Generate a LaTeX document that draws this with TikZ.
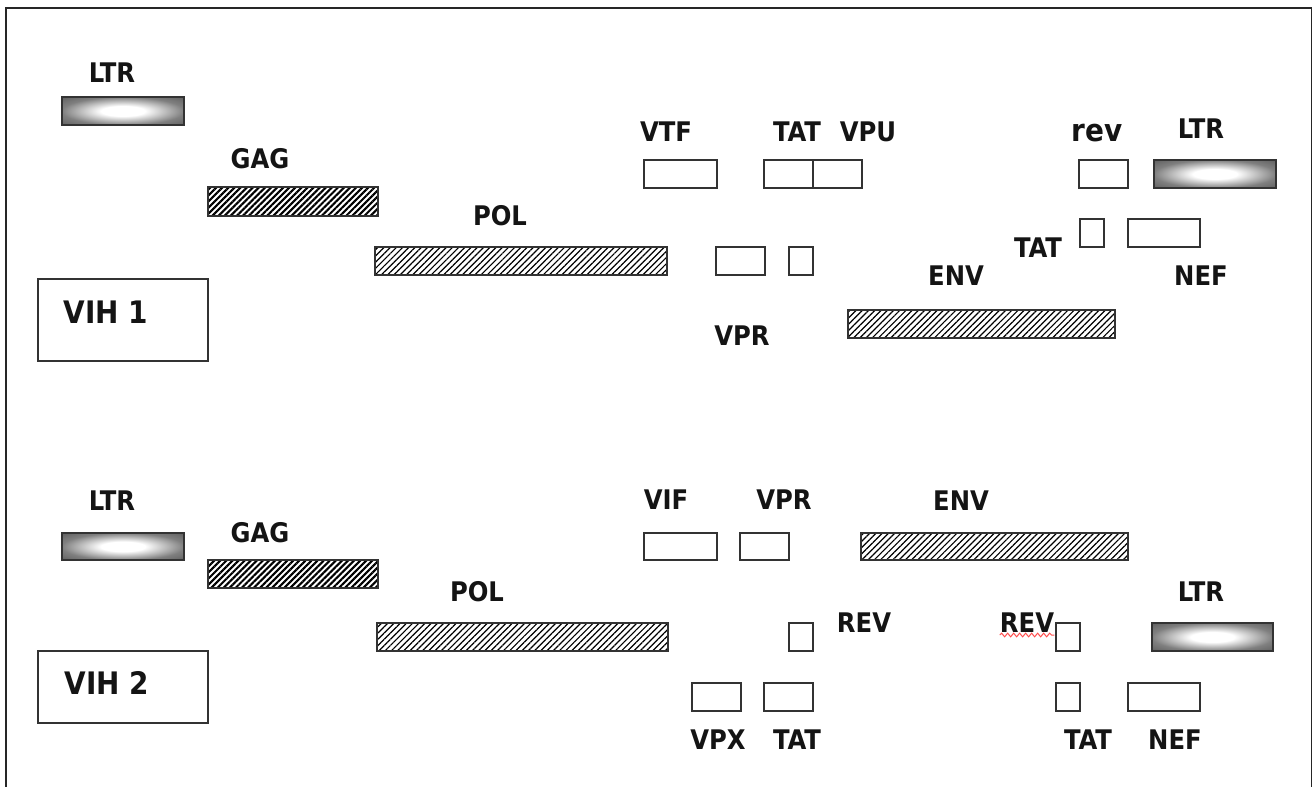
\documentclass[tikz,border=0pt]{standalone}
\usepackage{fontspec}
\setmainfont{DejaVu Sans Condensed}[BoldFont={DejaVu Sans Condensed Bold}]
\usetikzlibrary{patterns.meta,decorations.pathmorphing}

% glowing LTR bar: white core fading to grey at the ends
\pgfdeclareradialshading{ltrglow}{\pgfpoint{0bp}{0bp}}{%
  color(0bp)=(white); color(9bp)=(white); color(25bp)=(black!50);
  color(35bp)=(black!62); color(50bp)=(black!62)}

\tikzset{
  gene/.style={draw=black!80, line width=1.3pt, inner sep=0pt, outer sep=0pt},
  plain/.style={gene, fill=white},
  ltrbar/.style={gene, shading=ltrglow},
  gagbar/.style={gene, pattern={Lines[angle=45, distance=4.3pt, line width=2.1pt]}},
  polbar/.style={gene, pattern={Lines[angle=45, distance=4.4pt, line width=1.2pt]}},
  lab/.style={anchor=base, inner sep=0pt, font=\bfseries\fontsize{27}{30}\selectfont, text=black!92},
  biglab/.style={lab, font=\bfseries\fontsize{31}{34}\selectfont},
  virus/.style={draw=black!80, line width=1.3pt, inner sep=0pt},
  vlab/.style={anchor=base, inner sep=0pt, font=\bfseries\fontsize{31}{34}\selectfont, text=black!92},
  frame/.style={draw=black!85, line width=1.5pt},
}

% \genebox{name}{style}{x1}{y1}{x2}{y2}: a bar given by its corners
\newcommand\genebox[6]{%
  \node[#2, minimum width={(#5-#3)*1pt}, minimum height={(#6-#4)*1pt}]
    (#1) at ({(#3+#5)/2},{(#4+#6)/2}) {};}

\begin{document}
\begin{tikzpicture}[x=1pt, y=-1pt]
\useasboundingbox (0,0) rectangle (1315,787);

% open frame
\draw[frame] (6,787) -- (6,8) -- (1311.5,8) -- (1311.5,787);

% ---------------- VIH 1 ----------------
\genebox{vih1}{virus}{38}{279}{208}{361}
\node[vlab] (vih1-t) at (106,323) {VIH 1};

\genebox{ltr1a}{ltrbar}{62}{97}{184}{125}
\node[lab] (ltr1a-l) at (112,82) {LTR};
\genebox{gag1}{gagbar}{208}{187}{378}{216}
\node[lab] (gag1-l) at (260,168) {GAG};
\genebox{pol1}{polbar}{375}{247}{667}{275}
\node[lab] (pol1-l) at (500,225) {POL};

\genebox{vif1}{plain}{644}{160}{717}{188}
\node[lab] (vif1-l) at (666,141) {VTF};
\genebox{tat1a}{plain}{764}{160}{813}{188}
\genebox{vpu1}{plain}{813}{160}{862}{188}
\node[lab] (tat1a-l) at (797,141) {TAT};
\node[lab] (vpu1-l) at (868,141) {VPU};

\genebox{vpr1}{plain}{716}{247}{765}{275}
\genebox{vpr1b}{plain}{789}{247}{813}{275}
\node[lab] (vpr1-l) at (742,345) {VPR};

\genebox{env1}{polbar}{848}{310}{1115}{338}
\node[lab] (env1-l) at (956,285) {ENV};

\genebox{rev1}{plain}{1079}{160}{1128}{188}
\node[biglab] (rev1-l) at (1097,141) {rev};
\genebox{ltr1b}{ltrbar}{1154}{160}{1276}{188}
\node[lab] (ltr1b-l) at (1201,138) {LTR};

\genebox{tat1b}{plain}{1080}{219}{1104}{247}
\node[lab] (tat1b-l) at (1038,257) {TAT};
\genebox{nef1}{plain}{1128}{219}{1200}{247}
\node[lab] (nef1-l) at (1201,285) {NEF};

% ---------------- VIH 2 ----------------
\genebox{vih2}{virus}{38}{651}{208}{723}
\node[vlab] (vih2-t) at (107,694) {VIH 2};

\genebox{ltr2a}{ltrbar}{62}{533}{184}{560}
\node[lab] (ltr2a-l) at (112,510) {LTR};
\genebox{gag2}{gagbar}{208}{560}{378}{588}
\node[lab] (gag2-l) at (260,542) {GAG};
\genebox{pol2}{polbar}{377}{623}{668}{651}
\node[lab] (pol2-l) at (477,601) {POL};

\genebox{vif2}{plain}{644}{533}{717}{560}
\node[lab] (vif2-l) at (666,509) {VIF};
\genebox{vpr2}{plain}{740}{533}{789}{560}
\node[lab] (vpr2-l) at (784,509) {VPR};
\genebox{env2}{polbar}{861}{533}{1128}{560}
\node[lab] (env2-l) at (961,510) {ENV};

\genebox{rev2a}{plain}{789}{623}{813}{651}
\node[lab] (rev2a-l) at (864,632) {REV};
\genebox{rev2b}{plain}{1056}{623}{1080}{651}
\node[lab] (rev2b-l) at (1027,632) {REV};
% spell-check squiggle under the second REV
\draw[red!70, line width=1pt, decorate,
      decoration={snake, amplitude=1.8pt, segment length=6pt}]
  ([yshift=-3pt]rev2b-l.base west) -- ([yshift=-3pt]rev2b-l.base east);

\genebox{ltr2b}{ltrbar}{1152}{623}{1273}{651}
\node[lab] (ltr2b-l) at (1201,601) {LTR};

\genebox{vpx2}{plain}{692}{683}{741}{711}
\node[lab] (vpx2-l) at (718,749) {VPX};
\genebox{tat2a}{plain}{764}{683}{813}{711}
\node[lab] (tat2a-l) at (797,749) {TAT};
\genebox{tat2b}{plain}{1056}{683}{1080}{711}
\node[lab] (tat2b-l) at (1088,749) {TAT};
\genebox{nef2}{plain}{1128}{683}{1200}{711}
\node[lab] (nef2-l) at (1175,749) {NEF};
\end{tikzpicture}
\end{document}
